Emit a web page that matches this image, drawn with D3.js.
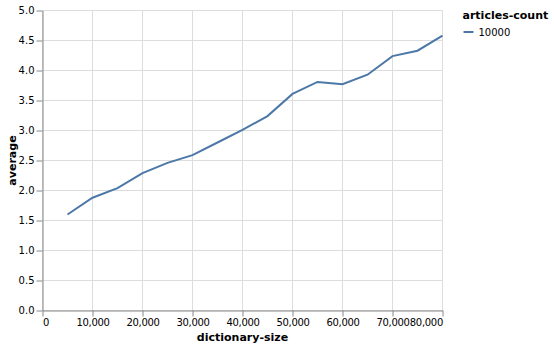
<!DOCTYPE html>
<html>
<head>
<meta charset="utf-8">
<script src="https://cdn.jsdelivr.net/npm/d3@7"></script>
<style>
  body { margin: 0; background: #fff; }
  svg text { font-family: "DejaVu Sans", sans-serif; fill: #000; }
</style>
</head>
<body>
<div id="chart"></div>
<script>
// data
var dictionarySize = [5000, 10000, 15000, 20000, 25000, 30000, 35000, 40000,
  45000, 50000, 55000, 60000, 65000, 70000, 75000, 80000];
var average = [1.60, 1.88, 2.04, 2.29, 2.46, 2.59, 2.80, 3.01,
  3.24, 3.61, 3.81, 3.77, 3.93, 4.24, 4.33, 4.58];
var seriesName = "10000";
var xTicks = [0, 10000, 20000, 30000, 40000, 50000, 60000, 70000, 80000];
var yTicks = [0, 0.5, 1, 1.5, 2, 2.5, 3, 3.5, 4, 4.5, 5];

var margin = {left: 42.5, top: 10.5},
    width = 400,
    height = 300;

var svg = d3.select("#chart").append("svg")
  .attr("width", 554)
  .attr("height", 347);

var g = svg.append("g")
  .attr("transform", "translate(" + margin.left + "," + margin.top + ")");

var x = d3.scaleLinear().domain([0, 80000]).range([0, width]);
var y = d3.scaleLinear().domain([0, 5]).range([height, 0]);

// grid
g.append("g").selectAll("line")
  .data(xTicks)
  .enter().append("line")
    .attr("x1", function(d) { return x(d); })
    .attr("x2", function(d) { return x(d); })
    .attr("y1", 0)
    .attr("y2", height)
    .attr("stroke", "#ddd");

g.append("g").selectAll("line")
  .data(yTicks)
  .enter().append("line")
    .attr("x1", 0)
    .attr("x2", width)
    .attr("y1", function(d) { return y(d); })
    .attr("y2", function(d) { return y(d); })
    .attr("stroke", "#ddd");

// axes
var xAxis = g.append("g")
  .attr("transform", "translate(0," + height + ")")
  .call(d3.axisBottom(x).tickValues(xTicks).tickFormat(d3.format(",")).tickSizeOuter(0).tickPadding(2));

// flush first / last labels like vega-lite does
xAxis.selectAll(".tick text")
  .style("letter-spacing", "-0.3px")
  .attr("text-anchor", function(d, i, n) {
    if (i === 0) return "start";
    if (i === n.length - 1) return "end";
    return "middle";
  });

var yAxis = g.append("g")
  .call(d3.axisLeft(y).tickValues(yTicks).tickFormat(d3.format(".1f")).tickSizeOuter(0).tickPadding(2));

[xAxis, yAxis].forEach(function(a) {
  a.selectAll(".domain").attr("stroke", "#888");
  a.selectAll(".tick line").attr("stroke", "#888");
  a.selectAll(".tick text").style("font-size", "10px").attr("fill", "#000");
  a.attr("font-family", null);
});

// line
var line = d3.line()
  .x(function(d, i) { return x(dictionarySize[i]); })
  .y(function(d) { return y(d); });

g.append("path")
  .datum(average)
  .attr("fill", "none")
  .attr("stroke", "#4c78a8")
  .attr("stroke-width", 2)
  .attr("d", line);

// titles
g.append("text")
  .attr("x", width / 2)
  .attr("y", height + 30.5)
  .attr("text-anchor", "middle")
  .style("font-size", "11px")
  .style("font-weight", "bold")
  .text("dictionary-size");

g.append("text")
  .attr("transform", "translate(" + (-26.5) + "," + (height / 2) + ") rotate(-90)")
  .attr("text-anchor", "middle")
  .style("font-size", "11px")
  .style("font-weight", "bold")
  .text("average");

// legend
var legend = svg.append("g")
  .attr("transform", "translate(" + (margin.left + width + 20) + ",10)");

legend.append("text")
  .attr("x", 0)
  .attr("y", 9)
  .style("font-size", "11px")
  .style("font-weight", "bold")
  .text("articles-count");

legend.append("line")
  .attr("x1", 1)
  .attr("x2", 11)
  .attr("y1", 22)
  .attr("y2", 22)
  .attr("stroke", "#4c78a8")
  .attr("stroke-width", 2);

legend.append("text")
  .attr("x", 16)
  .attr("y", 25.5)
  .style("font-size", "10px")
  .text(seriesName);
</script>
</body>
</html>
